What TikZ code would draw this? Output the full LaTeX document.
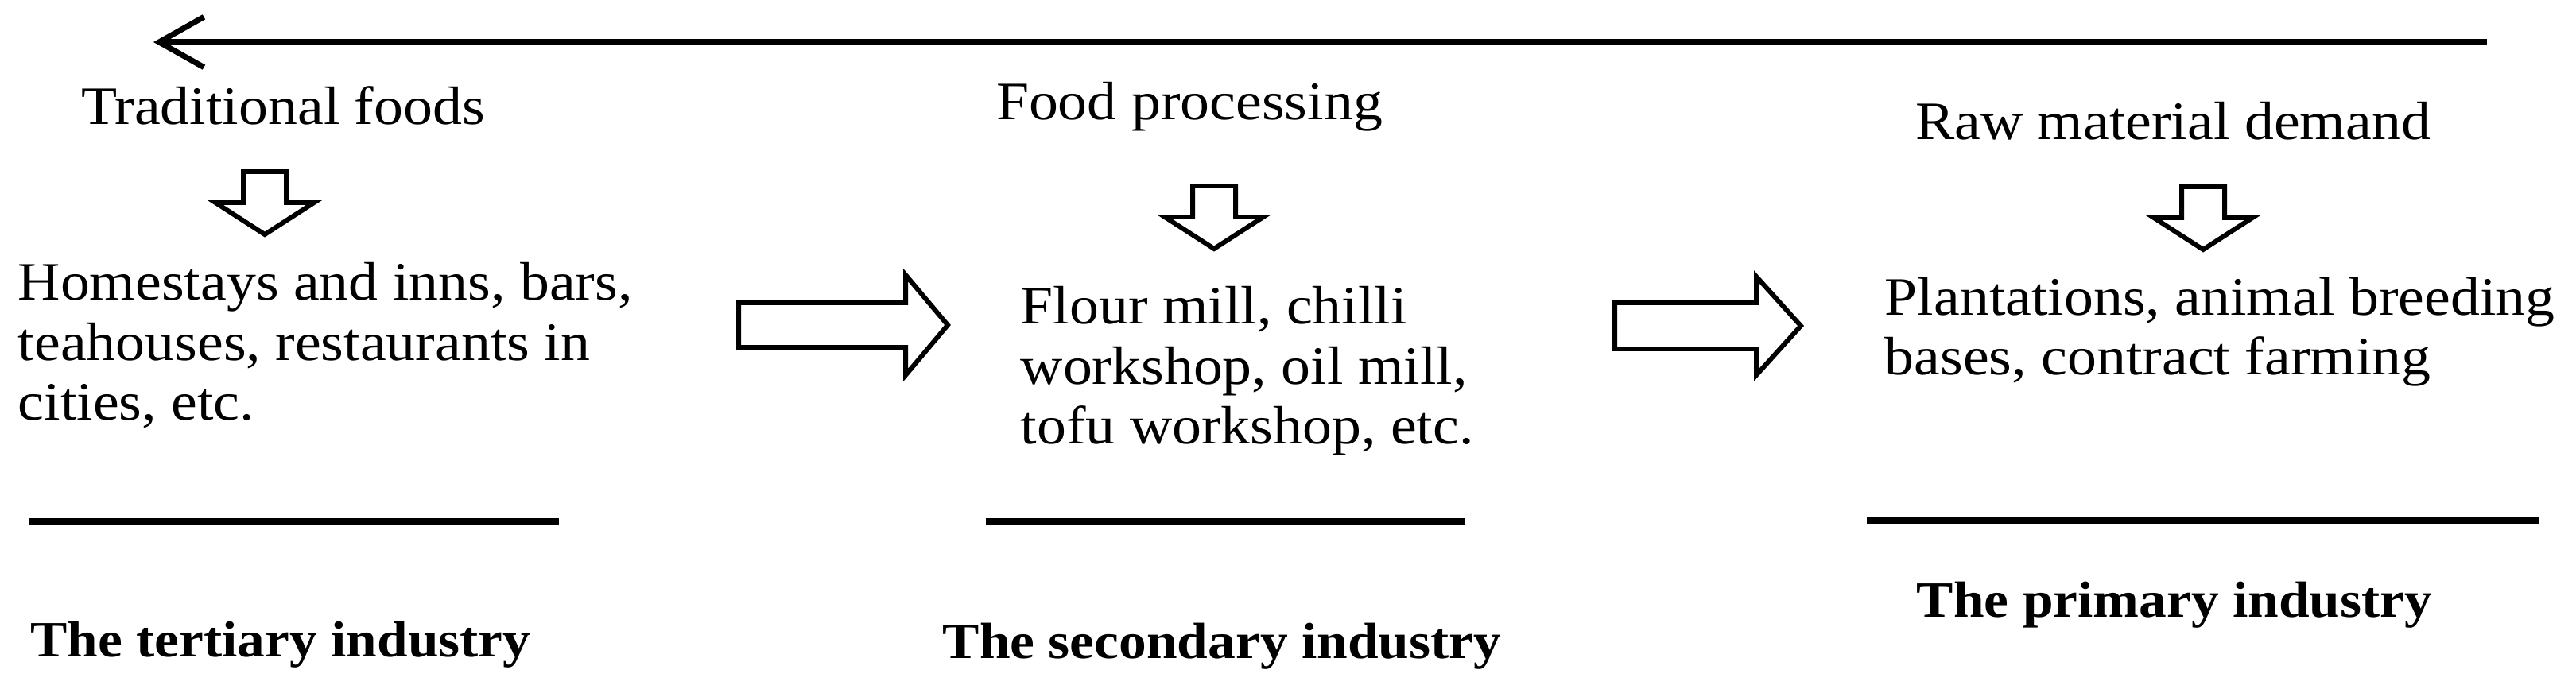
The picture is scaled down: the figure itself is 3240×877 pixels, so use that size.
\documentclass[tikz,border=0pt]{standalone}
\usepackage{fontspec}
\setmainfont{Liberation Serif}[FakeStretch=1.085]
\usetikzlibrary{arrows.meta}

\tikzset{
  txt/.style={inner sep=0pt, font=\fontsize{19.35pt}{21.6pt}\selectfont},
  txtl/.style={txt, align=left},
  title/.style={inner sep=0pt, font=\fontsize{18.2pt}{21.6pt}\selectfont\bfseries},
  blk/.style={draw, line width=1.7pt, fill=white, line join=miter},
  rule/.style={line width=2.3pt},
}

\begin{document}
\begin{tikzpicture}[x=0.01cm, y=-0.01cm]
\useasboundingbox (0,0) rectangle (3240,877);

% flow back to the tertiary side
\coordinate (flowstart) at (3128,53);
\coordinate (flowend) at (193,53);
\draw[line width=2pt, -{Straight Barb[length=16pt,width=18pt]}] (flowstart) -- (flowend);

% headings
\node[txt, anchor=base] (trad) at (356,157) {Traditional foods};
\node[txt, anchor=base] (proc) at (1496,151) {Food processing};
\node[txt, anchor=base] (raw) at (2733,176) {Raw material demand};

% down arrows
\foreach \cx/\cy in {333/216, 1527/234, 2771/235}
  \draw[blk, shift={(\cx,\cy)}] (-27,0) -- (27,0) -- (27,39) -- (62,39) -- (0,79) -- (-62,39) -- (-27,39) -- cycle;

% contents (base = last line)
\node[txtl, anchor=base west] (hotels) at (22,529) {Homestays and inns, bars,\\teahouses, restaurants in\\cities, etc.};
\node[txtl, anchor=base west] (mills) at (1283,559) {Flour mill, chilli\\workshop, oil mill,\\tofu workshop, etc.};
\node[txtl, anchor=base west] (farms) at (2370,472) {Plantations, animal breeding\\bases, contract farming};

% right arrows
\draw[blk, shift={(929,409)}] (0,-28) -- (210,-28) -- (210,-63) -- (263,0) -- (210,63) -- (210,28) -- (0,28) -- cycle;
\draw[blk, shift={(2031,410)}] (0,-29) -- (178,-29) -- (178,-62) -- (234,0) -- (178,62) -- (178,29) -- (0,29) -- cycle;

% rules
\draw[rule] (36,656) -- (703,656);
\draw[rule] (1240,656) -- (1843,656);
\draw[rule] (2348,655) -- (3193,655);

% industries
\node[title, anchor=base] (tertiary) at (353,827) {The tertiary industry};
\node[title, anchor=base] (secondary) at (1537,828) {The secondary industry};
\node[title, anchor=base] (primary) at (2735,777) {The primary industry};

\end{tikzpicture}
\end{document}
